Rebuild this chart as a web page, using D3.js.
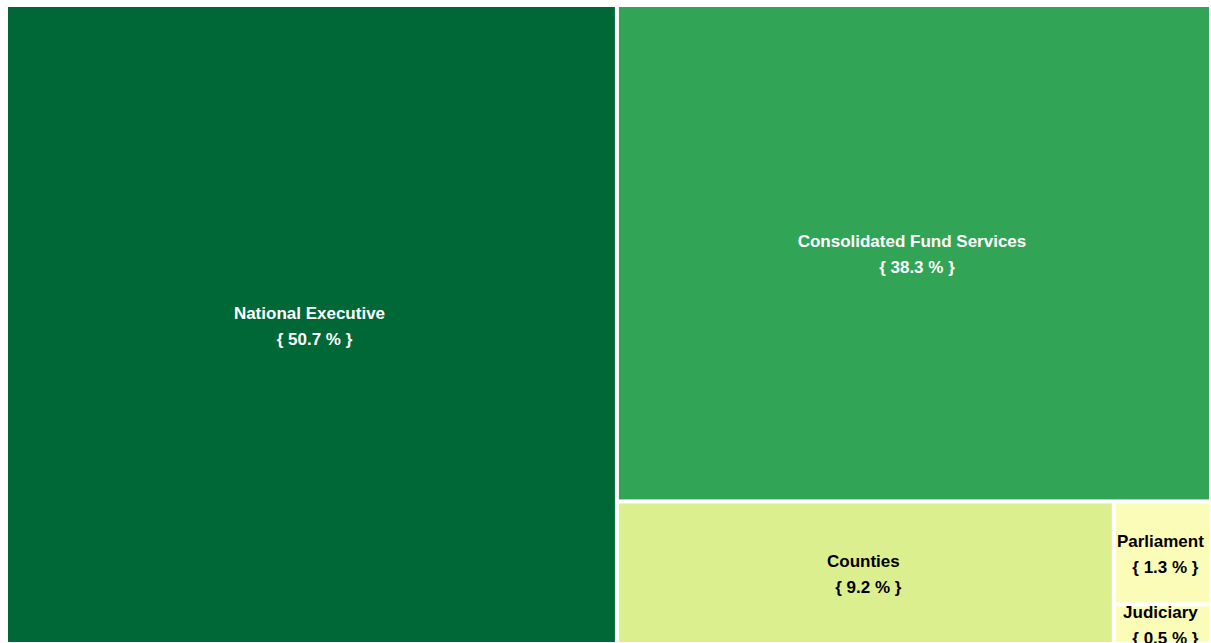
<!DOCTYPE html>
<html>
<head>
<meta charset="utf-8">
<script src="https://cdn.jsdelivr.net/npm/d3@7"></script>
<style>
  body { margin: 0; background: #fff; }
  #content { width: 1211px; height: 643px; overflow: hidden; }
  text { font-family: "Liberation Sans", Arial, sans-serif; font-weight: bold; font-size: 17px; }
</style>
</head>
<body>
<div id="content"></div>
<script>
const width = 1211;
const height = 643;
const xPad = 8;
const yPad = 7;
const mapWidth = 1201;
const mapHeight = 635;

const categories = ['National Executive', 'Consolidated Fund Services', 'Counties', 'Parliament', 'Judiciary'];
const shares = [50.7, 38.3, 9.2, 1.3, 0.5];
const colors = ['#006837', '#32a456', '#dcef8f', '#fcfcb9', '#fcfcb9'];
const textColors = ['#fff', '#fff', '#000', '#000', '#000'];

const fig = d3.select('#content')
    .append('svg')
    .attr('width', width)
    .attr('height', height);

const root = d3.hierarchy({
        children: categories.map((c, i) => ({name: c, value: shares[i], i: i}))
    })
    .sum((d) => d.value || 0)
    .sort((a, b) => b.value - a.value);

d3.treemap()
    .tile(d3.treemapSquarify)
    .size([mapWidth, mapHeight])
    .paddingInner(4)(root);

const ax = fig.append('g')
    .attr('transform', `translate(${xPad},${yPad})`);

const cell = ax.selectAll('g')
    .data(root.leaves())
    .join('g')
    .attr('transform', (d) => `translate(${d.x0},${d.y0})`);

cell.append('rect')
    .attr('width', (d) => d.x1 - d.x0)
    .attr('height', (d) => d.y1 - d.y0)
    .attr('fill', (d) => colors[d.data.i]);

const label = cell.append('text')
    .attr('text-anchor', 'middle')
    .attr('fill', (d) => textColors[d.data.i]);

label.append('tspan')
    .attr('x', (d) => (d.x1 - d.x0) / 2 - 2)
    .attr('y', (d) => (d.y1 - d.y0) / 2 - 6)
    .text((d) => d.data.name);

label.append('tspan')
    .attr('x', (d) => (d.x1 - d.x0) / 2 + 3)
    .attr('y', (d) => (d.y1 - d.y0) / 2 + 20)
    .text((d) => `{ ${d.data.value} % }`);
</script>
</body>
</html>
